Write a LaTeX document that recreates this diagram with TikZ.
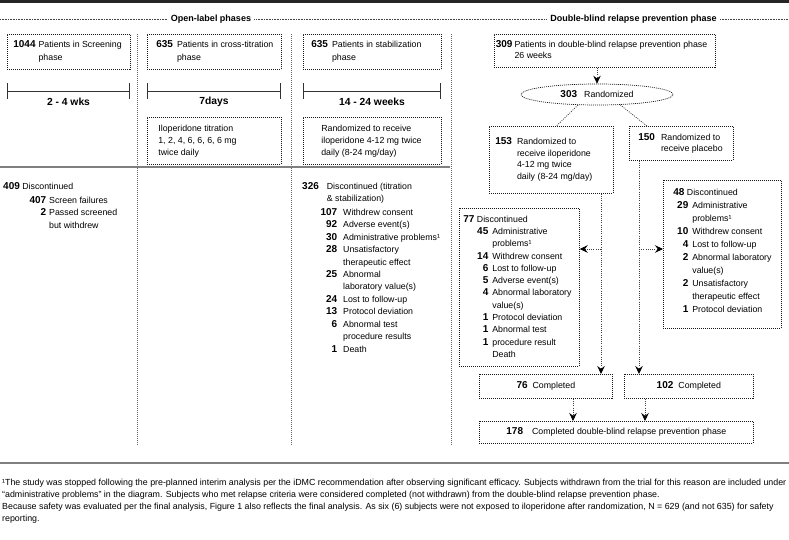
\documentclass[tikz,border=0pt]{standalone}
\usepackage{fontspec}
\setmainfont{Liberation Sans}
\usetikzlibrary{arrows.meta,shapes.geometric,calc}
\newcommand\bnum[1]{{\fontsize{10}{10}\selectfont\bfseries #1}}
\newcommand\nb[2]{\makebox[#1][r]{\bnum{#2}}}
\tikzset{
  dbox/.style={draw=black!90, dash pattern=on 1pt off 1pt, line width=0.7pt, inner ysep=0pt, anchor=north west},
  sepline/.style={draw=black!60, dash pattern=on 1pt off 1pt, line width=0.7pt},
  conn/.style={draw=black!75, dash pattern=on 1pt off 1.2pt, line width=0.75pt, arrows={-Stealth[length=8pt,width=7.5pt,inset=2.8pt,color=black]}},
  link/.style={draw=black!75, dash pattern=on 1pt off 1.2pt, line width=0.75pt},
  tline/.style={line width=1pt, draw=black!80, arrows={Bar[width=16pt]-Bar[width=16pt]}},
  tlab/.style={font=\fontsize{10.3}{12}\selectfont\bfseries, inner sep=0pt},
  hdr/.style={font=\fontsize{9}{11}\selectfont\bfseries, fill=white, inner xsep=3pt, inner ysep=1pt},
  txt/.style={anchor=base west, inner sep=0pt},
}
\begin{document}
\begin{tikzpicture}[x=1pt, y=-1pt, font=\fontsize{8.8}{13}\selectfont]
\fill[white] (0,0) rectangle (789,539);
\useasboundingbox (0,0) rectangle (789,539);
% rules
\fill[black!85] (0,0) rectangle (789,3);
\draw[black!50, line width=2pt] (0,167) -- (450,167);
\draw[black!50, line width=2pt] (0,463) -- (789,463);
\draw[black!75, dash pattern=on 0.8pt off 0.8pt, line width=0.8pt] (0,19) -- (789,19);
\node[hdr] (h1) at (211,19) {Open-label phases};
\node[hdr] (h2) at (633.5,19) {Double-blind relapse prevention phase};
% separators
\draw[sepline] (137,34) -- (137,446);
\draw[sepline] (291,34) -- (291,446);
\draw[sepline] (451,34) -- (451,446);
% open-label boxes
\node[dbox, minimum height=35pt, inner xsep=6pt] (b1) at (7,34)
  {\makebox[111pt][l]{\begin{tabular}{@{}l@{\hspace{3pt}}l@{}}\bnum{1044} & Patients in Screening\\ & phase\end{tabular}}};
\node[dbox, minimum height=35pt, inner xsep=9pt] (b2) at (147,34)
  {\makebox[116pt][l]{\begin{tabular}{@{}l@{\hspace{4pt}}l@{}}\bnum{635} & Patients in cross-titration\\ & phase\end{tabular}}};
\node[dbox, minimum height=35pt, inner xsep=8pt] (b3) at (303,34)
  {\makebox[122pt][l]{\begin{tabular}{@{}l@{\hspace{4pt}}l@{}}\bnum{635} & Patients in stabilization\\ & phase\end{tabular}}};
% timelines
\draw[tline] (7,91) -- (130,91);
\draw[tline] (147,91) -- (281,91);
\draw[tline] (303,91) -- (441,91);
\node[tlab] (t1) at (68.5,102) {2 - 4 wks};
\node[tlab] (t2) at (214,102) {7days};
\node[tlab] (t3) at (372,102) {14 - 24 weeks};
\node[dbox, minimum height=47pt, inner xsep=11pt, font=\fontsize{8.8}{12}\selectfont] (b2b) at (147,117)
  {\makebox[112pt][l]{\begin{tabular}{@{}l@{}}Iloperidone titration\\1, 2, 4, 6, 6, 6, 6 mg\\twice daily\end{tabular}}};
\node[dbox, minimum height=47pt, inner xsep=18pt, font=\fontsize{8.8}{12}\selectfont] (b3b) at (303,117)
  {\makebox[102pt][l]{\begin{tabular}{@{}l@{}}Randomized to receive\\iloperidone 4-12 mg twice\\daily (8-24 mg/day)\end{tabular}}};
% discontinued lists (open label)
\node[txt] (d1h) at (3,189.2) {\bnum{409} Discontinued};
\node[txt, font=\fontsize{8.8}{12.5}\selectfont] (d1l) at (27,203.2)
  {\begin{tabular}[t]{@{}l@{\hspace{3pt}}l@{}}\nb{19pt}{407} & Screen failures\\ \nb{19pt}{2} & Passed screened\\ & but withdrew\end{tabular}};
\node[txt, font=\fontsize{8.8}{12}\selectfont] (d3h) at (302,189.2)
  {\begin{tabular}[t]{@{}l@{\hspace{8pt}}l@{}}\bnum{326} & Discontinued (titration\\ & \& stabilization)\end{tabular}};
\node[txt, font=\fontsize{8.8}{12.45}\selectfont] (d3l) at (317,215.2)
  {\begin{tabular}[t]{@{}l@{\hspace{6pt}}l@{}}
  \nb{20pt}{107} & Withdrew consent\\
  \nb{20pt}{92} & Adverse event(s)\\
  \nb{20pt}{30} & Administrative problems¹\\
  \nb{20pt}{28} & Unsatisfactory\\
   & therapeutic effect\\
  \nb{20pt}{25} & Abnormal\\
   & laboratory value(s)\\
  \nb{20pt}{24} & Lost to follow-up\\
  \nb{20pt}{13} & Protocol deviation\\
  \nb{20pt}{6} & Abnormal test\\
   & procedure results\\
  \nb{20pt}{1} & Death
  \end{tabular}};
% double-blind phase
\node[dbox, minimum height=33pt, inner xsep=1.5pt, font=\fontsize{8.8}{11}\selectfont] (b309) at (494,34)
  {\makebox[218pt][l]{\begin{tabular}{@{}l@{\hspace{2pt}}l@{}}\bnum{309} & Patients in double-blind relapse prevention phase\\ & 26 weeks\end{tabular}}};
\node[ellipse, draw=black!90, dash pattern=on 1pt off 1pt, line width=0.7pt, minimum width=152pt, minimum height=21pt, inner sep=0pt] (ell) at (597,94.5)
  {\bnum{303}\hspace{7pt}Randomized};
\node[dbox, minimum height=67pt, inner xsep=6pt, font=\fontsize{8.8}{11.5}\selectfont] (b153) at (489,126)
  {\makebox[112pt][l]{\begin{tabular}{@{}l@{\hspace{5pt}}l@{}}\bnum{153} & Randomized to\\ & receive iloperidone\\ & 4-12 mg twice\\ & daily (8-24 mg/day)\end{tabular}}};
\node[dbox, minimum height=34pt, inner xsep=9pt, font=\fontsize{8.8}{11}\selectfont] (b150) at (629,126)
  {\makebox[86pt][l]{\begin{tabular}{@{}l@{\hspace{6pt}}l@{}}\bnum{150} & Randomized to\\ & receive placebo\end{tabular}}};
\node[dbox, minimum height=158pt, inner xsep=4pt, font=\fontsize{8.8}{12.3}\selectfont] (b77) at (459,208)
  {\makebox[112pt][l]{\begin{tabular}{@{}l@{\hspace{4pt}}l@{}}
  \multicolumn{2}{@{}l@{}}{\bnum{77} Discontinued}\\
  \nb{25pt}{45} & Administrative\\
   & problems¹\\
  \nb{25pt}{14} & Withdrew consent\\
  \nb{25pt}{6} & Lost to follow-up\\
  \nb{25pt}{5} & Adverse event(s)\\
  \nb{25pt}{4} & Abnormal laboratory\\
   & value(s)\\
  \nb{25pt}{1} & Protocol deviation\\
  \nb{25pt}{1} & Abnormal test\\
  \nb{25pt}{1} & procedure result\\
   & Death
  \end{tabular}}};
\node[dbox, minimum height=148pt, inner xsep=10pt, font=\fontsize{8.8}{13}\selectfont] (b48) at (663,180)
  {\makebox[98pt][l]{\begin{tabular}{@{}l@{\hspace{4pt}}l@{}}
  \multicolumn{2}{@{}l@{}}{\bnum{48} Discontinued}\\
  \nb{15pt}{29} & Administrative\\
   & problems¹\\
  \nb{15pt}{10} & Withdrew consent\\
  \nb{15pt}{4} & Lost to follow-up\\
  \nb{15pt}{2} & Abnormal laboratory\\
   & value(s)\\
  \nb{15pt}{2} & Unsatisfactory\\
   & therapeutic effect\\
  \nb{15pt}{1} & Protocol deviation\\[6pt]
  \end{tabular}}};
\node[dbox, minimum width=133pt, minimum height=24pt, inner xsep=0pt] (b76) at (479,374)
  {\bnum{76}\hspace{5pt}Completed\hspace{16pt}};
\node[dbox, minimum width=129pt, minimum height=24pt, inner xsep=0pt] (b102) at (624,374)
  {\bnum{102}\hspace{5pt}Completed};
\node[dbox, minimum width=274pt, minimum height=22pt, inner xsep=0pt] (b178) at (479,421)
  {\bnum{178}\hspace{9pt}Completed double-blind relapse prevention phase};
% connectors
\coordinate (v1) at (601,249);
\coordinate (v2) at (639,249);
\coordinate (k1) at (573,0);
\coordinate (k2) at (645,0);
\draw[conn] (b309.south -| ell.north) -- (ell.north);
\draw[link] (ell.209) -- ($(b153.north)+(5,0)$);
\draw[link] (ell.336) -- ($(b150.north west)+(18,0)$);
\draw[conn] (b153.south -| v1) -- (b76.north -| v1);
\draw[conn] (v1) -- (b77.east |- v1);
\draw[conn] (b150.south -| v2) -- (b102.north -| v2);
\draw[conn] (v2) -- (b48.west |- v2);
\draw[conn] (b76.south -| k1) -- (b178.north -| k1);
\draw[conn] (b102.south -| k2) -- (b178.north -| k2);
% footnote
\node[txt, font=\fontsize{8.85}{12}\selectfont] (fn) at (2,485)
  {\begin{tabular}[t]{@{}l@{}}
  ¹The study was stopped following the pre-planned interim analysis per the iDMC recommendation after observing significant efficacy. Subjects withdrawn from the trial for this reason are included under\\
  “administrative problems” in the diagram. Subjects who met relapse criteria were considered completed (not withdrawn) from the double-blind relapse prevention phase.\\
  Because safety was evaluated per the final analysis, Figure 1 also reflects the final analysis. As six (6) subjects were not exposed to iloperidone after randomization, N = 629 (and not 635) for safety\\
  reporting.
  \end{tabular}};
\end{tikzpicture}
\end{document}
